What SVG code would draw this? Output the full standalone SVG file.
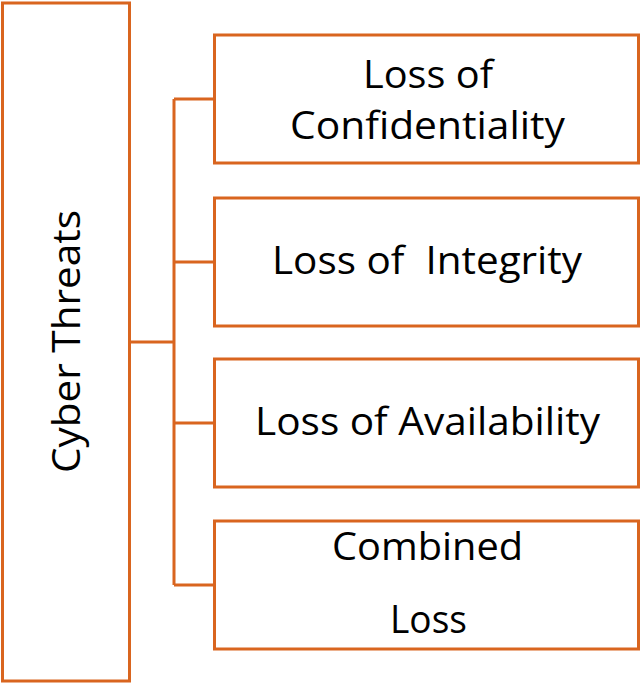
<svg xmlns="http://www.w3.org/2000/svg" width="641" height="685" viewBox="0 0 641 685">
<style>
.box{fill:#fff;stroke:#d9651f;stroke-width:3}
.conn{fill:none;stroke:#d9651f;stroke-width:3}
.t{font-family:"Open Sans","Liberation Sans",sans-serif;font-size:39px;fill:#000;text-anchor:middle}
</style>
<rect width="641" height="685" fill="#fff"/>
<g id="connectors">
<path class="conn" d="M130 342H174M174 99V585M174 99H214M174 262H214M174 423H214M174 585H214"/>
</g>
<g id="cyber-threats">
<rect class="box" x="2.5" y="3" width="127" height="678"/>
<text class="t" transform="translate(80 341.5) rotate(-90)" textLength="263" lengthAdjust="spacingAndGlyphs">Cyber Threats</text>
</g>
<g id="confidentiality">
<rect class="box" x="214.5" y="35" width="424" height="128"/>
<text class="t" x="428" y="88" textLength="130" lengthAdjust="spacingAndGlyphs">Loss of</text>
<text class="t" x="427.5" y="139" textLength="275" lengthAdjust="spacingAndGlyphs">Confidentiality</text>
</g>
<g id="integrity">
<rect class="box" x="214.5" y="198" width="424" height="128"/>
<text class="t" x="427" y="274" xml:space="preserve" textLength="310" lengthAdjust="spacingAndGlyphs">Loss of  Integrity</text>
</g>
<g id="availability">
<rect class="box" x="214.5" y="359" width="424" height="128"/>
<text class="t" x="427.5" y="435" textLength="345" lengthAdjust="spacingAndGlyphs">Loss of Availability</text>
</g>
<g id="combined">
<rect class="box" x="214.5" y="521" width="424" height="128"/>
<text class="t" x="427.5" y="560" textLength="191" lengthAdjust="spacingAndGlyphs">Combined</text>
<text class="t" x="428.5" y="633" textLength="77" lengthAdjust="spacingAndGlyphs">Loss</text>
</g>
</svg>
